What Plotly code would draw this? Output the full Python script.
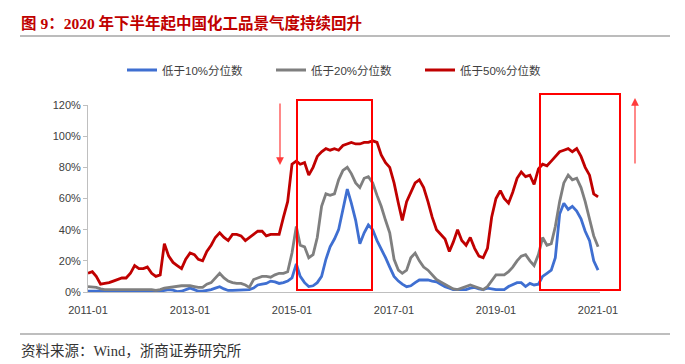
import plotly.graph_objects as go
import pandas as pd

# Monthly observation dates, 2011-01 .. 2021-01
dates = pd.date_range("2011-01-01", periods=121, freq="MS")

# Share (%) of chemical products whose price is below the given percentile
below_10 = [0.5, 0.5, 0.3, 0.5, 0.8, 0.5, 0.3, 0.5, 0.8, 0.5, 0.3, 0.5,
            0.5, 0.3, 0.2, 0.3, 0.2, 0.5, 1.0, 1.5, 1.2, 0.3, 0.5, 1.5,
            2.5, 1.5, 0.5, 0.5, 0.8, 1.5, 2.5, 3.4, 2.0, 1.0, 1.0, 1.2,
            1.5, 1.5, 1.5, 2.5, 4.5, 5.0, 5.5, 7.0, 6.5, 5.5, 6.0, 7.0,
            9.0, 18, 10, 6.0, 3.5, 4.0, 6.0, 10, 21, 29, 34, 40,
            52, 66, 57, 46, 31, 38, 43, 40, 33, 28, 22, 16,
            10, 7.0, 5.0, 3.4, 4.0, 6.0, 7.7, 7.7, 7.7, 7.0, 6.5, 5.0,
            3.4, 2.5, 1.5, 1.5, 1.5, 1.5, 2.5, 3.0, 2.0, 1.5, 2.5, 2.0,
            1.5, 1.5, 1.5, 3.5, 5.0, 6.0, 6.0, 3.5, 5.5, 4.5, 5.0, 10,
            12, 14, 22, 50, 57, 53, 55, 52, 47, 39, 33, 20,
            14]
below_20 = [3.4, 3.2, 3.0, 2.0, 1.5, 1.5, 1.5, 1.5, 1.5, 1.5, 1.5, 1.5,
            1.5, 1.5, 1.5, 1.5, 1.0, 1.5, 2.5, 3.0, 3.4, 3.5, 4.0, 4.0,
            4.0, 3.5, 3.0, 3.0, 5.0, 6.0, 9.0, 12, 9.0, 7.0, 6.0, 5.5,
            5.5, 4.5, 3.0, 8.0, 9.0, 10, 10, 9.5, 11, 12, 12, 13,
            25, 42, 30, 29, 22, 24, 35, 55, 63, 62, 63, 72,
            78, 80, 76, 70, 67, 73, 74, 70, 62, 55, 46, 38,
            21, 14, 12, 14, 22, 25, 20, 16, 14, 11, 8.0, 6.5,
            5.0, 3.5, 2.0, 1.5, 2.5, 3.5, 4.5, 3.5, 2.5, 1.5, 3.5, 7.0,
            11, 11, 11, 13, 16, 20, 23, 24, 20, 17, 24, 35,
            30, 31, 42, 58, 70, 75, 72, 73, 67, 58, 47, 36,
            29]
below_50 = [12, 13, 10, 5.0, 5.5, 6.0, 7.0, 8.0, 9.0, 9.0, 12, 17,
            15, 15, 16, 12, 10, 11, 31, 23, 19, 17, 15, 21,
            25, 24, 21, 20, 26, 30, 35, 38, 35, 33, 37, 37,
            36, 33, 35, 37, 39, 39, 36, 37, 37, 37, 48, 58,
            82, 84, 82, 83, 75, 80, 87, 90, 92, 91, 92, 91,
            94, 95, 96, 95, 95, 96, 96, 97, 96, 88, 83, 80,
            70, 57, 46, 58, 64, 70, 72, 67, 58, 48, 40, 37,
            34, 26, 32, 40, 33, 30, 35, 28, 23, 22, 28, 48,
            60, 65, 60, 57, 64, 73, 77, 74, 75, 69, 79, 82,
            81, 84, 87, 90, 91, 92, 90, 92, 87, 80, 75, 63,
            61]

series_names = ["低于10%分位数", "低于20%分位数", "低于50%分位数"]
series_colors = ["#3F6FD1", "#7F7F7F", "#C00000"]

tick_vals = ["2011-01-01", "2013-01-01", "2015-01-01", "2017-01-01", "2019-01-01", "2021-01-01"]
tick_text = ["2011-01", "2013-01", "2015-01", "2017-01", "2019-01", "2021-01"]

fig = go.Figure()
for name, vals, col in zip(series_names, [below_10, below_20, below_50], series_colors):
    fig.add_trace(go.Scatter(
        x=dates, y=[v / 100 for v in vals], mode="lines", name=name,
        line=dict(color=col, width=2.8)))

# The page body adds an 8px margin, so the figure is drawn 8px smaller
# and every reference pixel position is shifted by that offset.
OFF = 8
W, H = 685 - OFF, 364 - OFF
L, R, T, B = 88 - OFF, 600 - OFF, 105 - OFF, 292 - OFF
def px(x):
    return (x - OFF - L) / (R - L)
def py(y):
    return (B - (y - OFF)) / (B - T)

shapes = [
    dict(type="rect", xref="paper", yref="paper", x0=px(297), x1=px(372), y0=py(290), y1=py(100),
         line=dict(color="#FF0000", width=2)),
    dict(type="rect", xref="paper", yref="paper", x0=px(540), x1=px(620), y0=py(290), y1=py(94),
         line=dict(color="#FF0000", width=2)),
    dict(type="line", xref="paper", yref="paper", x0=px(20), x1=px(670), y0=py(36), y1=py(36),
         line=dict(color="#A6A6A6", width=1.5)),
    dict(type="line", xref="paper", yref="paper", x0=px(20), x1=px(670), y0=py(334), y1=py(334),
         line=dict(color="#7F7F7F", width=1.2)),
]

annotations = [
    dict(text="<b>图 9：2020 年下半年起中国化工品景气度持续回升</b>", xref="paper", yref="paper",
         x=px(19), y=py(23), xanchor="left", yanchor="middle", showarrow=False,
         font=dict(family="Liberation Serif, Noto Sans CJK SC", size=15.5, color="#C00000")),
    dict(text="资料来源：Wind，浙商证券研究所", xref="paper", yref="paper",
         x=px(19), y=py(351), xanchor="left", yanchor="middle", showarrow=False,
         font=dict(family="Liberation Serif, Noto Sans CJK SC", size=14.5, color="#333333")),
    dict(text="", xref="paper", yref="paper", x=px(280), y=py(165), ax=0, ay=-63,
         showarrow=True, arrowhead=2, arrowsize=1.3, arrowwidth=1.2, arrowcolor="#FF3B3B"),
    dict(text="", xref="paper", yref="paper", x=px(635), y=py(98), ax=0, ay=67,
         showarrow=True, arrowhead=2, arrowsize=1.3, arrowwidth=1.2, arrowcolor="#FF3B3B"),
]

fig.update_layout(
    width=W, height=H,
    margin=dict(l=L, r=W - R, t=T, b=H - B, pad=0),
    paper_bgcolor="white", plot_bgcolor="white",
    showlegend=True,
    legend=dict(orientation="h", x=px(122), y=py(70), xanchor="left", yanchor="middle",
                font=dict(family="Liberation Sans, Noto Sans CJK SC", size=11.5, color="#404040"),
                entrywidth=104, entrywidthmode="pixels", bgcolor="rgba(0,0,0,0)"),
    shapes=shapes, annotations=annotations,
    font=dict(family="Liberation Sans, Arial, sans-serif", color="#404040"),
)
fig.update_xaxes(type="date", range=["2011-01-01", "2021-01-15"],
                 tickvals=tick_vals, ticktext=tick_text, showgrid=False,
                 showline=True, linecolor="#BFBFBF", linewidth=1, ticks="",
                 ticklabelstandoff=8, tickfont=dict(size=11, color="#404040"), zeroline=False)
fig.update_yaxes(range=[0, 1.2], tickvals=[0, 0.2, 0.4, 0.6, 0.8, 1.0, 1.2],
                 tickformat=".0%", showgrid=False, showline=True, linecolor="#BFBFBF",
                 linewidth=1, ticks="outside", ticklen=4, tickcolor="#BFBFBF",
                 tickfont=dict(size=11, color="#404040"), zeroline=False)

fig.write_html("out.html")
